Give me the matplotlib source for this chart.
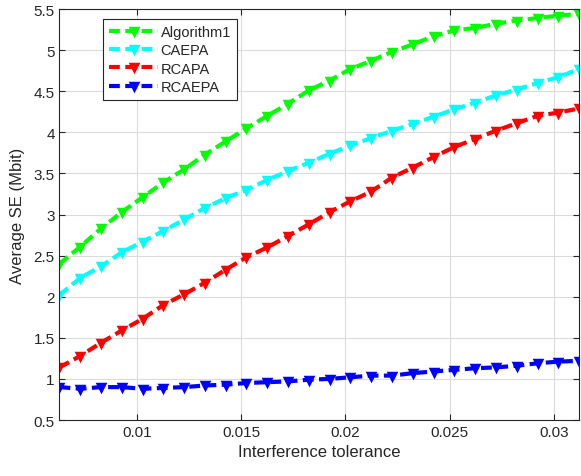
import matplotlib
matplotlib.use("Agg")
import matplotlib.pyplot as plt

# Interference tolerance values (x axis)
tolerance = [0.00630, 0.00730, 0.00829, 0.00929, 0.01028, 0.01128, 0.01228,
             0.01327, 0.01427, 0.01526, 0.01626, 0.01726, 0.01825, 0.01925,
             0.02024, 0.02124, 0.02224, 0.02323, 0.02423, 0.02522, 0.02622,
             0.02722, 0.02821, 0.02921, 0.03020, 0.03120]

# Average spectral efficiency of each scheme (Mbit)
algorithm1 = [2.40, 2.61, 2.83, 3.03, 3.21, 3.39, 3.55, 3.73, 3.89, 4.05,
              4.20, 4.35, 4.51, 4.63, 4.77, 4.87, 4.98, 5.07, 5.17, 5.24,
              5.27, 5.32, 5.36, 5.39, 5.42, 5.44]
caepa = [2.02, 2.23, 2.37, 2.54, 2.67, 2.80, 2.94, 3.08, 3.20, 3.30,
         3.42, 3.53, 3.63, 3.74, 3.84, 3.93, 4.02, 4.10, 4.19, 4.28,
         4.36, 4.45, 4.52, 4.60, 4.67, 4.77]
rcapa = [1.14, 1.28, 1.44, 1.59, 1.73, 1.90, 2.03, 2.17, 2.33, 2.48,
         2.60, 2.74, 2.88, 3.03, 3.16, 3.28, 3.45, 3.57, 3.70, 3.82,
         3.92, 4.02, 4.11, 4.20, 4.24, 4.29]
rcaepa = [0.90, 0.88, 0.90, 0.90, 0.88, 0.89, 0.90, 0.92, 0.93, 0.95,
          0.96, 0.97, 0.99, 1.00, 1.02, 1.04, 1.04, 1.07, 1.09, 1.11,
          1.13, 1.14, 1.16, 1.19, 1.21, 1.22]

series = [
    ("Algorithm1", algorithm1, (0, 1, 0)),
    ("CAEPA", caepa, (0, 1, 1)),
    ("RCAPA", rcapa, (1, 0, 0)),
    ("RCAEPA", rcaepa, (0, 0, 1)),
]

xticks = [0.01, 0.015, 0.02, 0.025, 0.03]
xtick_labels = ["0.01", "0.015", "0.02", "0.025", "0.03"]
yticks = [0.5, 1, 1.5, 2, 2.5, 3, 3.5, 4, 4.5, 5, 5.5]
ytick_labels = ["0.5", "1", "1.5", "2", "2.5", "3", "3.5", "4", "4.5", "5", "5.5"]

plt.rcParams["font.family"] = ["Liberation Sans", "DejaVu Sans"]
axis_gray = (0.15, 0.15, 0.15)

fig = plt.figure(figsize=(5.81, 4.77), dpi=100)
ax = fig.add_axes([0.1024, 0.1174, 0.8942, 0.8616])

for name, values, color in series:
    line, = ax.plot(tolerance, values, linestyle="--", linewidth=3,
                    color=color, marker="v", markersize=5,
                    markeredgewidth=2.5, markeredgecolor=color,
                    markerfacecolor=color, label=name)
    line.set_dashes((2.6, 1.3))

ax.set_xlim(0.0063, 0.0312)
ax.set_ylim(0.5, 5.5)
ax.set_xticks(xticks)
ax.set_xticklabels(xtick_labels)
ax.set_yticks(yticks)
ax.set_yticklabels(ytick_labels)

ax.grid(True, color=(0.86, 0.86, 0.86), linewidth=0.8)
ax.set_axisbelow(True)
ax.tick_params(direction="in", top=True, right=True, length=4,
               width=0.8, colors=axis_gray, labelsize=11, labelcolor=axis_gray)
for spine in ax.spines.values():
    spine.set_color(axis_gray)
    spine.set_linewidth(0.8)

ax.set_xlabel("Interference tolerance", fontsize=12, color=axis_gray, labelpad=4)
ax.set_ylabel("Average SE (Mbit)", fontsize=12, color=axis_gray, labelpad=6)

leg = ax.legend(loc="upper left", bbox_to_anchor=(0.0837, 0.9757),
                borderaxespad=0, fontsize=10.5, handlelength=3.4,
                handletextpad=0.15, labelspacing=0.3, borderpad=0.4,
                numpoints=1, fancybox=False, framealpha=1)
leg.get_frame().set_edgecolor(axis_gray)
leg.get_frame().set_linewidth(0.8)
for t in leg.get_texts():
    t.set_color(axis_gray)

fig.savefig("out.png", dpi=100)
